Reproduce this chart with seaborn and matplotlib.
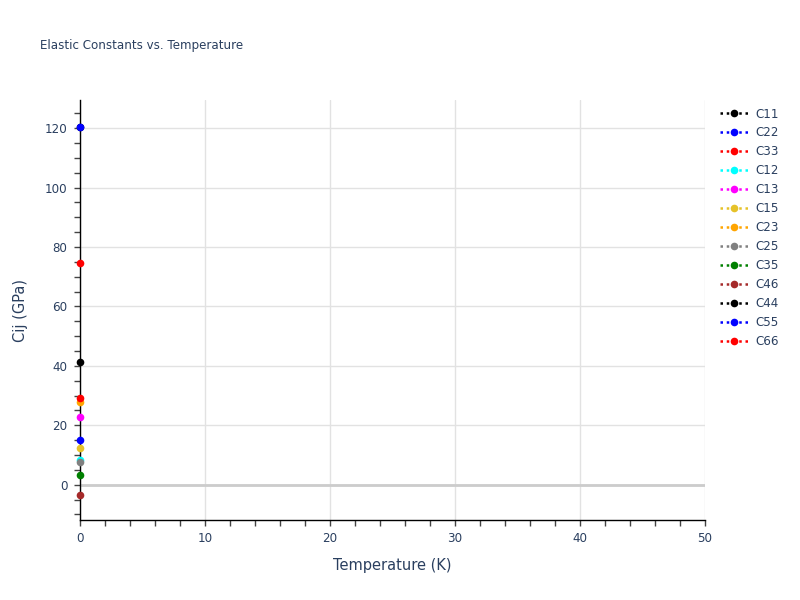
import matplotlib
matplotlib.use("Agg")
import matplotlib.pyplot as plt
import seaborn as sns
from matplotlib.ticker import MultipleLocator

# data (all points at T = 0 K)
labels = ["C11", "C22", "C33", "C12", "C13", "C15", "C23",
          "C25", "C35", "C46", "C44", "C55", "C66"]
temperature = [0]
values = [120.4, 120.5, 74.6, 8.3, 22.7, 12.2, 27.7,
          7.7, 3.1, -3.6, 41.4, 15.2, 29.2]
colors = ["black", "blue", "red", "cyan", "magenta", "#e6c229", "orange",
          "gray", "green", "brown", "black", "blue", "red"]

sns.set_style("white")
plt.rcParams["font.family"] = ["DejaVu Sans"]
text_col = "#2a3f5f"
tick_col = "#444444"

fig = plt.figure(figsize=(8, 6), dpi=100)
ax = fig.add_axes([80 / 800, 80 / 600, 625 / 800, 420 / 600])

for name, val, col in zip(labels, values, colors):
    sns.lineplot(x=temperature, y=[val], color=col, marker="o",
                 markersize=5.5, markeredgewidth=0, linestyle=(0, (1, 1.5)),
                 linewidth=1.8, label=name, ax=ax, clip_on=False, zorder=5)

ax.set_xlim(0, 50)
ax.set_ylim(-11.9, 129.5)
ax.xaxis.set_major_locator(MultipleLocator(10))
ax.xaxis.set_minor_locator(MultipleLocator(2))
ax.yaxis.set_major_locator(MultipleLocator(20))
ax.yaxis.set_minor_locator(MultipleLocator(5))

ax.grid(True, which="major", color="#e2e2e2", linewidth=1)
ax.axhline(0, color="#cccccc", linewidth=2, zorder=1)
for side in ["top", "right"]:
    ax.spines[side].set_visible(False)
for side in ["left", "bottom"]:
    ax.spines[side].set_color("black")
    ax.spines[side].set_linewidth(1)

ax.tick_params(which="both", direction="out", color=tick_col, length=4,
               width=1, left=True, bottom=True)
ax.tick_params(which="major", labelsize=8.6, labelcolor=text_col, pad=5)

ax.set_xlabel("Temperature (K)", fontsize=10.5, color=text_col, labelpad=9)
ax.set_ylabel("Cij (GPa)", fontsize=10.5, color=text_col, labelpad=12)
fig.text(40 / 800, 1 - 45 / 600, "Elastic Constants vs. Temperature",
         fontsize=8.6, color=text_col, va="center", ha="left")

ax.legend(loc="upper left", bbox_to_anchor=(720 / 800, 1 - 107.5 / 600),
          bbox_transform=fig.transFigure, frameon=False, fontsize=8.6,
          handlelength=2.4, handletextpad=0.6, labelspacing=0.5,
          borderaxespad=0, borderpad=0, labelcolor=text_col)

fig.savefig("out.png", dpi=100, facecolor="white")
